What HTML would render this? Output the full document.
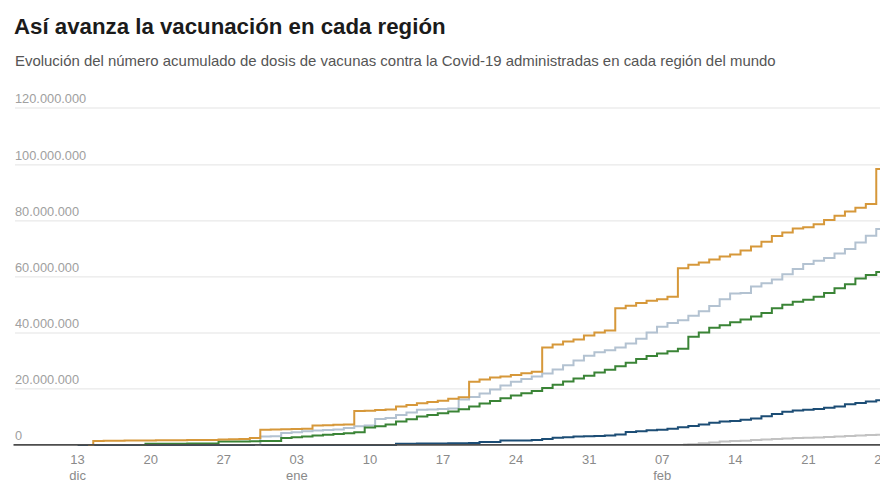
<!DOCTYPE html>
<html lang="es"><head><meta charset="utf-8"><title>Así avanza la vacunación en cada región</title>
<style>
html,body{margin:0;padding:0;background:#fff;}
body{width:880px;height:495px;overflow:hidden;position:relative;font-family:"Liberation Sans",Arial,sans-serif;}
h1{position:absolute;left:14px;top:14.1px;margin:0;font-size:22.25px;line-height:26px;font-weight:bold;color:#1b1b1b;white-space:nowrap;}
p.sub{position:absolute;left:15px;top:51.7px;margin:0;font-size:14.95px;line-height:18px;color:#555;white-space:nowrap;}
</style></head>
<body>
<h1 id="t">Así avanza la vacunación en cada región</h1>
<p class="sub" id="s">Evolución del número acumulado de dosis de vacunas contra la Covid-19 administradas en cada región del mundo</p>
<svg width="880" height="495" viewBox="0 0 880 495" style="position:absolute;left:0;top:0">
<line x1="15" x2="880" y1="108.0" y2="108.0" stroke="#e3e3e3" stroke-width="1"/>
<line x1="15" x2="880" y1="164.9" y2="164.9" stroke="#e3e3e3" stroke-width="1"/>
<line x1="15" x2="880" y1="220.9" y2="220.9" stroke="#e3e3e3" stroke-width="1"/>
<line x1="15" x2="880" y1="276.9" y2="276.9" stroke="#e3e3e3" stroke-width="1"/>
<line x1="15" x2="880" y1="333.0" y2="333.0" stroke="#e3e3e3" stroke-width="1"/>
<line x1="15" x2="880" y1="388.9" y2="388.9" stroke="#e3e3e3" stroke-width="1"/>
<g font-family="Liberation Sans, Arial, sans-serif" font-size="12.8" fill="#a0a0a0">
<text x="15" y="103.0">120.000.000</text>
<text x="15" y="159.9">100.000.000</text>
<text x="15" y="215.9">80.000.000</text>
<text x="15" y="271.9">60.000.000</text>
<text x="15" y="328.0">40.000.000</text>
<text x="15" y="383.9">20.000.000</text>
<text x="15" y="439.7">0</text>
</g>
<g fill="none" stroke-width="2" stroke-linejoin="miter" shape-rendering="geometricPrecision">
<path d="M683.12,444.60H688.34V444.24H698.78V443.28H709.22V442.44H719.66V441.51H730.10V441.09H740.54V440.64H750.98V439.89H761.42V439.51H771.86V438.97H782.30V438.43H792.74V438.05H803.18V437.77H813.62V437.50H824.06V437.02H834.50V436.54H844.94V436.05H855.38V435.55H865.82V435.04H876.26V434.67H881.48" stroke="#c2c2c2"/>
<path d="M77.60,444.90H82.82V444.90H93.26V444.90H103.70V444.90H114.14V444.90H124.58V444.90H135.02V444.90H145.46V444.90H155.90V444.90H166.34V444.90H176.78V444.90H187.22V444.90H197.66V444.90H208.10V444.90H218.54V444.90H228.98V444.90H239.42V444.90H249.86V444.90H260.30V444.90H270.74V444.90H281.18V444.90H291.62V444.90H302.06V444.90H312.50V444.90H322.94V444.90H333.38V444.90H343.82V444.90H354.26V444.90H364.70V444.90H375.14V444.90H385.58V444.90H396.02V443.80H406.46V443.70H416.90V443.60H427.34V443.50H437.78V443.40H448.22V443.30H458.66V443.20H469.10V443.00H479.54V442.10H489.98V442.10H500.42V440.60H510.86V440.60H521.30V440.60H531.74V439.90H542.18V439.00H552.62V437.75H563.06V437.25H573.50V436.50H583.94V436.25H594.38V435.90H604.82V435.40H615.26V434.40H625.70V431.90H636.14V431.25H646.58V430.20H657.02V429.75H667.46V428.75H677.90V427.25H688.34V425.90H698.78V424.40H709.22V422.75H719.66V421.50H730.10V421.00H740.54V419.75H750.98V418.40H761.42V416.20H771.86V413.90H782.30V411.80H792.74V410.50H803.18V409.80H813.62V409.10H824.06V407.70H834.50V406.40H844.94V404.30H855.38V403.00H865.82V401.60H876.26V400.20H881.48" stroke="#1c4d75"/>
<path d="M255.08,444.90H260.30V436.40H270.74V436.30H281.18V433.10H291.62V432.20H302.06V431.30H312.50V430.50H322.94V429.90H333.38V429.40H343.82V428.10H354.26V426.30H364.70V425.60H375.14V418.90H385.58V418.10H396.02V414.90H406.46V412.50H416.90V409.80H427.34V409.40H437.78V409.00H448.22V408.60H458.66V399.40H469.10V396.90H479.54V393.60H489.98V389.60H500.42V385.50H510.86V381.80H521.30V379.00H531.74V376.40H542.18V373.40H552.62V369.50H563.06V365.20H573.50V360.40H583.94V355.70H594.38V352.30H604.82V350.30H615.26V347.60H625.70V343.60H636.14V338.70H646.58V332.60H657.02V326.70H667.46V323.10H677.90V320.20H688.34V315.70H698.78V311.30H709.22V306.00H719.66V299.20H730.10V293.60H740.54V293.10H750.98V286.60H761.42V283.20H771.86V279.50H782.30V274.30H792.74V269.10H803.18V264.00H813.62V260.80H824.06V258.00H834.50V253.60H844.94V248.90H855.38V242.60H865.82V235.80H876.26V229.10H881.48" stroke="#b3c2d1"/>
<path d="M140.24,444.90H145.46V443.80H155.90V443.80H166.34V443.70H176.78V443.70H187.22V443.60H197.66V443.60H208.10V443.50H218.54V441.50H228.98V441.40H239.42V441.40H249.86V441.30H260.30V441.00H270.74V440.90H281.18V438.10H291.62V437.30H302.06V436.40H312.50V435.60H322.94V434.80H333.38V434.00H343.82V433.20H354.26V432.20H364.70V427.60H375.14V426.30H385.58V424.60H396.02V421.60H406.46V419.20H416.90V416.50H427.34V414.90H437.78V413.30H448.22V411.40H458.66V409.30H469.10V406.40H479.54V403.60H489.98V400.90H500.42V398.20H510.86V395.50H521.30V393.30H531.74V390.90H542.18V388.00H552.62V384.80H563.06V381.40H573.50V378.60H583.94V375.70H594.38V372.60H604.82V369.80H615.26V366.30H625.70V362.80H636.14V359.00H646.58V356.00H657.02V353.50H667.46V351.20H677.90V348.80H688.34V336.80H698.78V332.40H709.22V327.70H719.66V325.30H730.10V322.30H740.54V319.40H750.98V316.60H761.42V312.90H771.86V308.30H782.30V304.80H792.74V301.80H803.18V299.80H813.62V296.80H824.06V293.10H834.50V288.30H844.94V284.20H855.38V278.60H865.82V274.90H876.26V272.10H881.48" stroke="#3a8436"/>
<path d="M88.04,444.90H93.26V440.90H103.70V440.80H114.14V440.70H124.58V440.60H135.02V440.50H145.46V440.40H155.90V440.30H166.34V440.20H176.78V440.20H187.22V440.10H197.66V440.00H208.10V439.90H218.54V439.60H228.98V439.30H239.42V439.00H249.86V438.10H260.30V429.75H270.74V429.40H281.18V429.20H291.62V429.00H302.06V428.80H312.50V425.60H322.94V425.20H333.38V424.80H343.82V424.40H354.26V411.10H364.70V410.70H375.14V410.10H385.58V409.50H396.02V406.50H406.46V404.90H416.90V403.30H427.34V402.00H437.78V400.70H448.22V398.80H458.66V397.30H469.10V381.80H479.54V379.50H489.98V377.60H500.42V376.40H510.86V375.00H521.30V373.30H531.74V371.80H542.18V347.40H552.62V344.40H563.06V341.60H573.50V339.50H583.94V335.50H594.38V332.50H604.82V330.40H615.26V308.20H625.70V305.80H636.14V303.10H646.58V300.80H657.02V299.30H667.46V296.80H677.90V268.20H688.34V264.70H698.78V262.60H709.22V259.50H719.66V256.50H730.10V254.40H740.54V250.50H750.98V246.50H761.42V241.80H771.86V236.10H782.30V232.60H792.74V228.60H803.18V227.30H813.62V224.30H824.06V220.10H834.50V215.80H844.94V211.40H855.38V207.70H865.82V204.00H876.26V168.90H881.48" stroke="#d6983a"/>
</g>
<line x1="13.5" x2="880" y1="444.9" y2="444.9" stroke="#4d4d4d" stroke-width="1.7"/>
<g font-family="Liberation Sans, Arial, sans-serif" font-size="13" fill="#8a8a8a" text-anchor="middle">
<text x="77.6" y="463.6">13</text>
<text x="77.6" y="479.8">dic</text>
<text x="150.7" y="463.6">20</text>
<text x="223.8" y="463.6">27</text>
<text x="296.8" y="463.6">03</text>
<text x="296.8" y="479.8">ene</text>
<text x="369.9" y="463.6">10</text>
<text x="443.0" y="463.6">17</text>
<text x="516.1" y="463.6">24</text>
<text x="589.2" y="463.6">31</text>
<text x="662.2" y="463.6">07</text>
<text x="662.2" y="479.8">feb</text>
<text x="735.3" y="463.6">14</text>
<text x="808.4" y="463.6">21</text>
<text x="881.5" y="463.6">28</text>
</g>
</svg>
</body></html>
